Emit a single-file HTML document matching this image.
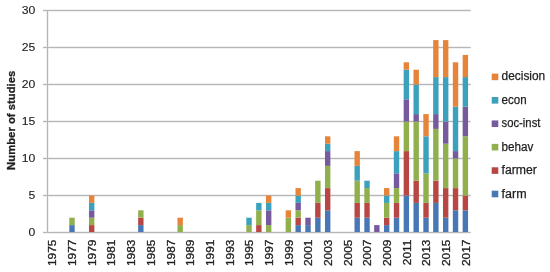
<!DOCTYPE html><html><head><meta charset="utf-8"><style>html,body{margin:0;padding:0;background:#fff;}svg{display:block;will-change:transform;filter:blur(0.3px);}text{font-family:"Liberation Sans",sans-serif;fill:#1E1E1E;stroke:#1E1E1E;stroke-width:0.3;} text.lg{stroke-width:0.25;} text.yl{stroke-width:0.12;}</style></head><body>
<svg width="550" height="272" viewBox="0 0 550 272">
<rect width="550" height="272" fill="#fff"/>
<line x1="47.5" y1="10.5" x2="47.5" y2="232.5" stroke="#F0F0F0" stroke-width="3"/>
<line x1="43" y1="232.5" x2="470.6" y2="232.5" stroke="#F0F0F0" stroke-width="3"/>
<line x1="43" y1="195.5" x2="470.6" y2="195.5" stroke="#F0F0F0" stroke-width="3"/>
<line x1="43" y1="158.5" x2="470.6" y2="158.5" stroke="#F0F0F0" stroke-width="3"/>
<line x1="43" y1="121.5" x2="470.6" y2="121.5" stroke="#F0F0F0" stroke-width="3"/>
<line x1="43" y1="84.5" x2="470.6" y2="84.5" stroke="#F0F0F0" stroke-width="3"/>
<line x1="43" y1="47.5" x2="470.6" y2="47.5" stroke="#F0F0F0" stroke-width="3"/>
<line x1="43" y1="10.5" x2="470.6" y2="10.5" stroke="#F0F0F0" stroke-width="3"/>
<line x1="43" y1="195.5" x2="470.6" y2="195.5" stroke="#B6B6B6" stroke-width="1"/>
<line x1="43" y1="158.5" x2="470.6" y2="158.5" stroke="#B6B6B6" stroke-width="1"/>
<line x1="43" y1="121.5" x2="470.6" y2="121.5" stroke="#B6B6B6" stroke-width="1"/>
<line x1="43" y1="84.5" x2="470.6" y2="84.5" stroke="#B6B6B6" stroke-width="1"/>
<line x1="43" y1="47.5" x2="470.6" y2="47.5" stroke="#B6B6B6" stroke-width="1"/>
<line x1="43" y1="10.5" x2="470.6" y2="10.5" stroke="#B6B6B6" stroke-width="1"/>
<rect x="69.3" y="225.1" width="5.4" height="7.4" fill="#4777B4"/>
<rect x="69.3" y="217.7" width="5.4" height="7.4" fill="#8FB04D"/>
<rect x="88.97" y="225.1" width="5.4" height="7.4" fill="#B84743"/>
<rect x="88.97" y="217.7" width="5.4" height="7.4" fill="#8FB04D"/>
<rect x="88.97" y="210.3" width="5.4" height="7.4" fill="#775A9E"/>
<rect x="88.97" y="202.9" width="5.4" height="7.4" fill="#3CA1BC"/>
<rect x="88.97" y="195.5" width="5.4" height="7.4" fill="#E6843A"/>
<rect x="138.14" y="225.1" width="5.4" height="7.4" fill="#4777B4"/>
<rect x="138.14" y="217.7" width="5.4" height="7.4" fill="#B84743"/>
<rect x="138.14" y="210.3" width="5.4" height="7.4" fill="#8FB04D"/>
<rect x="177.47" y="225.1" width="5.4" height="7.4" fill="#8FB04D"/>
<rect x="177.47" y="217.7" width="5.4" height="7.4" fill="#E6843A"/>
<rect x="246.31" y="225.1" width="5.4" height="7.4" fill="#8FB04D"/>
<rect x="246.31" y="217.7" width="5.4" height="7.4" fill="#3CA1BC"/>
<rect x="256.15" y="225.1" width="5.4" height="7.4" fill="#B84743"/>
<rect x="256.15" y="210.3" width="5.4" height="14.8" fill="#8FB04D"/>
<rect x="256.15" y="202.9" width="5.4" height="7.4" fill="#3CA1BC"/>
<rect x="265.98" y="225.1" width="5.4" height="7.4" fill="#8FB04D"/>
<rect x="265.98" y="210.3" width="5.4" height="14.8" fill="#775A9E"/>
<rect x="265.98" y="202.9" width="5.4" height="7.4" fill="#3CA1BC"/>
<rect x="265.98" y="195.5" width="5.4" height="7.4" fill="#E6843A"/>
<rect x="285.65" y="217.7" width="5.4" height="14.8" fill="#8FB04D"/>
<rect x="285.65" y="210.3" width="5.4" height="7.4" fill="#E6843A"/>
<rect x="295.48" y="225.1" width="5.4" height="7.4" fill="#4777B4"/>
<rect x="295.48" y="217.7" width="5.4" height="7.4" fill="#B84743"/>
<rect x="295.48" y="210.3" width="5.4" height="7.4" fill="#8FB04D"/>
<rect x="295.48" y="202.9" width="5.4" height="7.4" fill="#775A9E"/>
<rect x="295.48" y="195.5" width="5.4" height="7.4" fill="#3CA1BC"/>
<rect x="295.48" y="188.1" width="5.4" height="7.4" fill="#E6843A"/>
<rect x="305.32" y="225.1" width="5.4" height="7.4" fill="#4777B4"/>
<rect x="305.32" y="217.7" width="5.4" height="7.4" fill="#775A9E"/>
<rect x="315.15" y="217.7" width="5.4" height="14.8" fill="#4777B4"/>
<rect x="315.15" y="202.9" width="5.4" height="14.8" fill="#B84743"/>
<rect x="315.15" y="180.7" width="5.4" height="22.2" fill="#8FB04D"/>
<rect x="324.98" y="210.3" width="5.4" height="22.2" fill="#4777B4"/>
<rect x="324.98" y="188.1" width="5.4" height="22.2" fill="#B84743"/>
<rect x="324.98" y="165.9" width="5.4" height="22.2" fill="#8FB04D"/>
<rect x="324.98" y="151.1" width="5.4" height="14.8" fill="#775A9E"/>
<rect x="324.98" y="143.7" width="5.4" height="7.4" fill="#3CA1BC"/>
<rect x="324.98" y="136.3" width="5.4" height="7.4" fill="#E6843A"/>
<rect x="354.49" y="217.7" width="5.4" height="14.8" fill="#4777B4"/>
<rect x="354.49" y="202.9" width="5.4" height="14.8" fill="#B84743"/>
<rect x="354.49" y="180.7" width="5.4" height="22.2" fill="#8FB04D"/>
<rect x="354.49" y="165.9" width="5.4" height="14.8" fill="#3CA1BC"/>
<rect x="354.49" y="151.1" width="5.4" height="14.8" fill="#E6843A"/>
<rect x="364.32" y="217.7" width="5.4" height="14.8" fill="#4777B4"/>
<rect x="364.32" y="202.9" width="5.4" height="14.8" fill="#B84743"/>
<rect x="364.32" y="188.1" width="5.4" height="14.8" fill="#8FB04D"/>
<rect x="364.32" y="180.7" width="5.4" height="7.4" fill="#3CA1BC"/>
<rect x="374.15" y="225.1" width="5.4" height="7.4" fill="#775A9E"/>
<rect x="383.99" y="225.1" width="5.4" height="7.4" fill="#4777B4"/>
<rect x="383.99" y="217.7" width="5.4" height="7.4" fill="#B84743"/>
<rect x="383.99" y="202.9" width="5.4" height="14.8" fill="#8FB04D"/>
<rect x="383.99" y="195.5" width="5.4" height="7.4" fill="#3CA1BC"/>
<rect x="383.99" y="188.1" width="5.4" height="7.4" fill="#E6843A"/>
<rect x="393.82" y="217.7" width="5.4" height="14.8" fill="#4777B4"/>
<rect x="393.82" y="202.9" width="5.4" height="14.8" fill="#B84743"/>
<rect x="393.82" y="188.1" width="5.4" height="14.8" fill="#8FB04D"/>
<rect x="393.82" y="173.3" width="5.4" height="14.8" fill="#775A9E"/>
<rect x="393.82" y="151.1" width="5.4" height="22.2" fill="#3CA1BC"/>
<rect x="393.82" y="136.3" width="5.4" height="14.8" fill="#E6843A"/>
<rect x="403.66" y="195.5" width="5.4" height="37" fill="#4777B4"/>
<rect x="403.66" y="151.1" width="5.4" height="44.4" fill="#B84743"/>
<rect x="403.66" y="121.5" width="5.4" height="29.6" fill="#8FB04D"/>
<rect x="403.66" y="99.3" width="5.4" height="22.2" fill="#775A9E"/>
<rect x="403.66" y="69.7" width="5.4" height="29.6" fill="#3CA1BC"/>
<rect x="403.66" y="62.3" width="5.4" height="7.4" fill="#E6843A"/>
<rect x="413.49" y="202.9" width="5.4" height="29.6" fill="#4777B4"/>
<rect x="413.49" y="180.7" width="5.4" height="22.2" fill="#B84743"/>
<rect x="413.49" y="121.5" width="5.4" height="59.2" fill="#8FB04D"/>
<rect x="413.49" y="114.1" width="5.4" height="7.4" fill="#775A9E"/>
<rect x="413.49" y="84.5" width="5.4" height="29.6" fill="#3CA1BC"/>
<rect x="413.49" y="69.7" width="5.4" height="14.8" fill="#E6843A"/>
<rect x="423.32" y="217.7" width="5.4" height="14.8" fill="#4777B4"/>
<rect x="423.32" y="202.9" width="5.4" height="14.8" fill="#B84743"/>
<rect x="423.32" y="173.3" width="5.4" height="29.6" fill="#8FB04D"/>
<rect x="423.32" y="136.3" width="5.4" height="37" fill="#3CA1BC"/>
<rect x="423.32" y="114.1" width="5.4" height="22.2" fill="#E6843A"/>
<rect x="433.16" y="202.9" width="5.4" height="29.6" fill="#4777B4"/>
<rect x="433.16" y="180.7" width="5.4" height="22.2" fill="#B84743"/>
<rect x="433.16" y="128.9" width="5.4" height="51.8" fill="#8FB04D"/>
<rect x="433.16" y="114.1" width="5.4" height="14.8" fill="#775A9E"/>
<rect x="433.16" y="77.1" width="5.4" height="37" fill="#3CA1BC"/>
<rect x="433.16" y="40.1" width="5.4" height="37" fill="#E6843A"/>
<rect x="442.99" y="217.7" width="5.4" height="14.8" fill="#4777B4"/>
<rect x="442.99" y="188.1" width="5.4" height="29.6" fill="#B84743"/>
<rect x="442.99" y="143.7" width="5.4" height="44.4" fill="#8FB04D"/>
<rect x="442.99" y="121.5" width="5.4" height="22.2" fill="#775A9E"/>
<rect x="442.99" y="77.1" width="5.4" height="44.4" fill="#3CA1BC"/>
<rect x="442.99" y="40.1" width="5.4" height="37" fill="#E6843A"/>
<rect x="452.83" y="210.3" width="5.4" height="22.2" fill="#4777B4"/>
<rect x="452.83" y="188.1" width="5.4" height="22.2" fill="#B84743"/>
<rect x="452.83" y="158.5" width="5.4" height="29.6" fill="#8FB04D"/>
<rect x="452.83" y="151.1" width="5.4" height="7.4" fill="#775A9E"/>
<rect x="452.83" y="106.7" width="5.4" height="44.4" fill="#3CA1BC"/>
<rect x="452.83" y="62.3" width="5.4" height="44.4" fill="#E6843A"/>
<rect x="462.66" y="210.3" width="5.4" height="22.2" fill="#4777B4"/>
<rect x="462.66" y="195.5" width="5.4" height="14.8" fill="#B84743"/>
<rect x="462.66" y="136.3" width="5.4" height="59.2" fill="#8FB04D"/>
<rect x="462.66" y="106.7" width="5.4" height="29.6" fill="#775A9E"/>
<rect x="462.66" y="77.1" width="5.4" height="29.6" fill="#3CA1BC"/>
<rect x="462.66" y="54.9" width="5.4" height="22.2" fill="#E6843A"/>
<line x1="43" y1="232.5" x2="470.6" y2="232.5" stroke="#B6B6B6" stroke-width="1"/>
<line x1="47.5" y1="10.5" x2="47.5" y2="232.5" stroke="#B6B6B6" stroke-width="1"/>
<text class="yl" transform="translate(35.2,231.7) scale(1.06,1)" font-size="11.5" text-anchor="end" dominant-baseline="central">0</text>
<text class="yl" transform="translate(35.2,194.7) scale(1.06,1)" font-size="11.5" text-anchor="end" dominant-baseline="central">5</text>
<text class="yl" transform="translate(35.2,157.7) scale(1.06,1)" font-size="11.5" text-anchor="end" dominant-baseline="central">10</text>
<text class="yl" transform="translate(35.2,120.7) scale(1.06,1)" font-size="11.5" text-anchor="end" dominant-baseline="central">15</text>
<text class="yl" transform="translate(35.2,83.7) scale(1.06,1)" font-size="11.5" text-anchor="end" dominant-baseline="central">20</text>
<text class="yl" transform="translate(35.2,46.7) scale(1.06,1)" font-size="11.5" text-anchor="end" dominant-baseline="central">25</text>
<text class="yl" transform="translate(35.2,9.7) scale(1.06,1)" font-size="11.5" text-anchor="end" dominant-baseline="central">30</text>
<text transform="translate(52.62,239.6) rotate(-90) scale(1.1,1)" font-size="10.8" text-anchor="end" dominant-baseline="central">1975</text>
<text transform="translate(72.3,239.6) rotate(-90) scale(1.1,1)" font-size="10.8" text-anchor="end" dominant-baseline="central">1977</text>
<text transform="translate(91.98,239.6) rotate(-90) scale(1.1,1)" font-size="10.8" text-anchor="end" dominant-baseline="central">1979</text>
<text transform="translate(111.66,239.6) rotate(-90) scale(1.1,1)" font-size="10.8" text-anchor="end" dominant-baseline="central">1981</text>
<text transform="translate(131.34,239.6) rotate(-90) scale(1.1,1)" font-size="10.8" text-anchor="end" dominant-baseline="central">1983</text>
<text transform="translate(151.02,239.6) rotate(-90) scale(1.1,1)" font-size="10.8" text-anchor="end" dominant-baseline="central">1985</text>
<text transform="translate(170.7,239.6) rotate(-90) scale(1.1,1)" font-size="10.8" text-anchor="end" dominant-baseline="central">1987</text>
<text transform="translate(190.38,239.6) rotate(-90) scale(1.1,1)" font-size="10.8" text-anchor="end" dominant-baseline="central">1989</text>
<text transform="translate(210.06,239.6) rotate(-90) scale(1.1,1)" font-size="10.8" text-anchor="end" dominant-baseline="central">1991</text>
<text transform="translate(229.74,239.6) rotate(-90) scale(1.1,1)" font-size="10.8" text-anchor="end" dominant-baseline="central">1993</text>
<text transform="translate(249.42,239.6) rotate(-90) scale(1.1,1)" font-size="10.8" text-anchor="end" dominant-baseline="central">1995</text>
<text transform="translate(269.1,239.6) rotate(-90) scale(1.1,1)" font-size="10.8" text-anchor="end" dominant-baseline="central">1997</text>
<text transform="translate(288.78,239.6) rotate(-90) scale(1.1,1)" font-size="10.8" text-anchor="end" dominant-baseline="central">1999</text>
<text transform="translate(308.46,239.6) rotate(-90) scale(1.1,1)" font-size="10.8" text-anchor="end" dominant-baseline="central">2001</text>
<text transform="translate(328.14,239.6) rotate(-90) scale(1.1,1)" font-size="10.8" text-anchor="end" dominant-baseline="central">2003</text>
<text transform="translate(347.82,239.6) rotate(-90) scale(1.1,1)" font-size="10.8" text-anchor="end" dominant-baseline="central">2005</text>
<text transform="translate(367.5,239.6) rotate(-90) scale(1.1,1)" font-size="10.8" text-anchor="end" dominant-baseline="central">2007</text>
<text transform="translate(387.18,239.6) rotate(-90) scale(1.1,1)" font-size="10.8" text-anchor="end" dominant-baseline="central">2009</text>
<text transform="translate(406.86,239.6) rotate(-90) scale(1.1,1)" font-size="10.8" text-anchor="end" dominant-baseline="central">2011</text>
<text transform="translate(426.54,239.6) rotate(-90) scale(1.1,1)" font-size="10.8" text-anchor="end" dominant-baseline="central">2013</text>
<text transform="translate(446.22,239.6) rotate(-90) scale(1.1,1)" font-size="10.8" text-anchor="end" dominant-baseline="central">2015</text>
<text transform="translate(465.9,239.6) rotate(-90) scale(1.1,1)" font-size="10.8" text-anchor="end" dominant-baseline="central">2017</text>
<text transform="translate(15.1,120.3) rotate(-90) scale(1.0,1)" font-size="11.3" font-weight="bold" text-anchor="middle">Number of studies</text>
<rect x="491.7" y="73.6" width="6.6" height="6.6" fill="#E6843A"/>
<text class="lg" x="501.6" y="80.4" font-size="12.3" textLength="43.6" lengthAdjust="spacingAndGlyphs">decision</text>
<rect x="491.7" y="97.02" width="6.6" height="6.6" fill="#3CA1BC"/>
<text class="lg" x="501.6" y="103.9" font-size="12.3" textLength="25.0" lengthAdjust="spacingAndGlyphs">econ</text>
<rect x="491.7" y="120.44" width="6.6" height="6.6" fill="#775A9E"/>
<text class="lg" x="501.6" y="127.4" font-size="12.3" textLength="38.8" lengthAdjust="spacingAndGlyphs">soc-inst</text>
<rect x="491.7" y="143.86" width="6.6" height="6.6" fill="#8FB04D"/>
<text class="lg" x="501.6" y="150.9" font-size="12.3" textLength="31.7" lengthAdjust="spacingAndGlyphs">behav</text>
<rect x="491.7" y="167.28" width="6.6" height="6.6" fill="#B84743"/>
<text class="lg" x="501.6" y="174.4" font-size="12.3" textLength="35.3" lengthAdjust="spacingAndGlyphs">farmer</text>
<rect x="491.7" y="190.7" width="6.6" height="6.6" fill="#4777B4"/>
<text class="lg" x="501.6" y="197.9" font-size="12.3" textLength="25.0" lengthAdjust="spacingAndGlyphs">farm</text>
</svg></body></html>
